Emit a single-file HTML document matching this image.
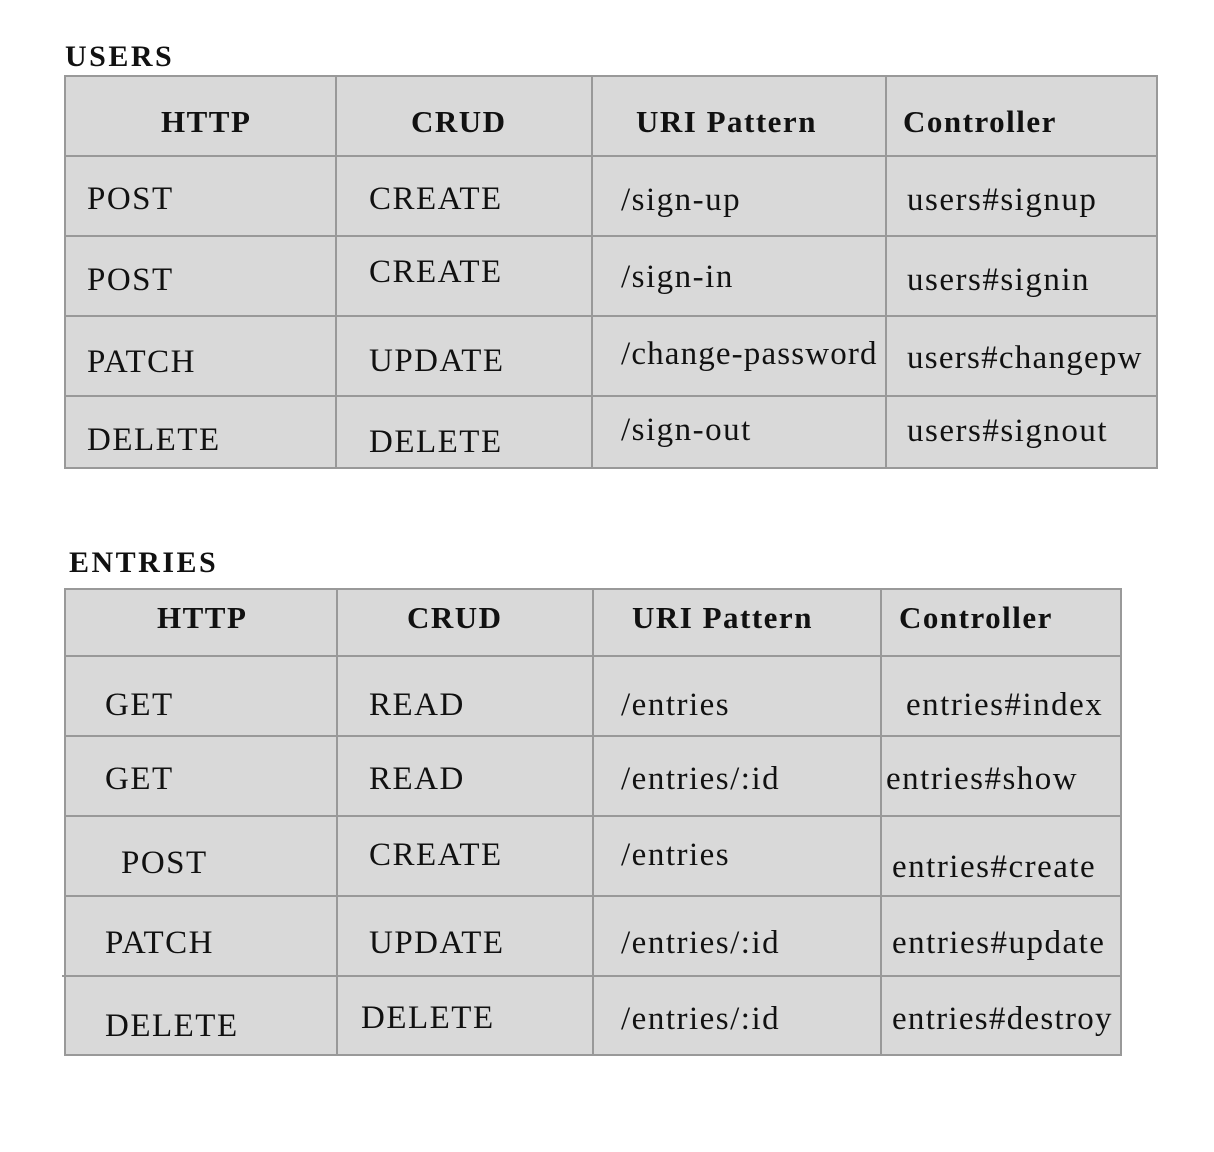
<!DOCTYPE html>
<html><head><meta charset="utf-8"><style>
html,body{margin:0;padding:0;background:#fff;}
svg{display:block;}
text{font-family:"Liberation Serif",serif;fill:#111;}
.h{font-weight:bold;font-size:31px;letter-spacing:1.5px;}
.t{font-weight:bold;font-size:30px;letter-spacing:2.5px;}
.b{font-size:33px;letter-spacing:1.5px;}
</style></head><body>
<svg width="1214" height="1152" viewBox="0 0 1214 1152">
<rect x="65" y="76" width="1092" height="392" fill="#d9d9d9" stroke="#999" stroke-width="2"/>
<g stroke="#999" stroke-width="2">
<line x1="336" y1="76" x2="336" y2="468"/><line x1="592" y1="76" x2="592" y2="468"/><line x1="886" y1="76" x2="886" y2="468"/>
<line x1="65" y1="156" x2="1157" y2="156"/><line x1="65" y1="236" x2="1157" y2="236"/><line x1="65" y1="316" x2="1157" y2="316"/><line x1="65" y1="396" x2="1157" y2="396"/>
</g>
<rect x="65" y="589" width="1056" height="466" fill="#d9d9d9" stroke="#999" stroke-width="2"/>
<g stroke="#999" stroke-width="2">
<line x1="337" y1="589" x2="337" y2="1055"/><line x1="593" y1="589" x2="593" y2="1055"/><line x1="881" y1="589" x2="881" y2="1055"/>
<line x1="65" y1="656" x2="1121" y2="656"/><line x1="65" y1="736" x2="1121" y2="736"/><line x1="65" y1="816" x2="1121" y2="816"/><line x1="65" y1="896" x2="1121" y2="896"/><line x1="62" y1="976" x2="1121" y2="976"/>
</g>
<text class="t" x="65" y="66">USERS</text>
<text class="h" x="161" y="132">HTTP</text><text class="h" x="411" y="132">CRUD</text><text class="h" x="636" y="132">URI Pattern</text><text class="h" x="903" y="132">Controller</text>
<text class="b" x="87" y="209">POST</text><text class="b" x="369" y="209">CREATE</text><text class="b" x="621" y="210">/sign-up</text><text class="b" x="907" y="210">users#signup</text>
<text class="b" x="87" y="290">POST</text><text class="b" x="369" y="282">CREATE</text><text class="b" x="621" y="287">/sign-in</text><text class="b" x="907" y="290">users#signin</text>
<text class="b" x="87" y="372">PATCH</text><text class="b" x="369" y="371">UPDATE</text><text class="b" x="621" y="364" textLength="257">/change-password</text><text class="b" x="907" y="368" textLength="236">users#changepw</text>
<text class="b" x="87" y="450">DELETE</text><text class="b" x="369" y="452">DELETE</text><text class="b" x="621" y="440">/sign-out</text><text class="b" x="907" y="441">users#signout</text>
<text class="t" x="69" y="572">ENTRIES</text>
<text class="h" x="157" y="628">HTTP</text><text class="h" x="407" y="628">CRUD</text><text class="h" x="632" y="628">URI Pattern</text><text class="h" x="899" y="628">Controller</text>
<text class="b" x="105" y="715">GET</text><text class="b" x="369" y="715">READ</text><text class="b" x="621" y="715">/entries</text><text class="b" x="906" y="715">entries#index</text>
<text class="b" x="105" y="789">GET</text><text class="b" x="369" y="789">READ</text><text class="b" x="621" y="789">/entries/:id</text><text class="b" x="886" y="789">entries#show</text>
<text class="b" x="121" y="873">POST</text><text class="b" x="369" y="865">CREATE</text><text class="b" x="621" y="865">/entries</text><text class="b" x="892" y="877">entries#create</text>
<text class="b" x="105" y="953">PATCH</text><text class="b" x="369" y="953">UPDATE</text><text class="b" x="621" y="953">/entries/:id</text><text class="b" x="892" y="953">entries#update</text>
<text class="b" x="105" y="1036">DELETE</text><text class="b" x="361" y="1028">DELETE</text><text class="b" x="621" y="1029">/entries/:id</text><text class="b" x="892" y="1029" textLength="221">entries#destroy</text>
</svg>
</body></html>
